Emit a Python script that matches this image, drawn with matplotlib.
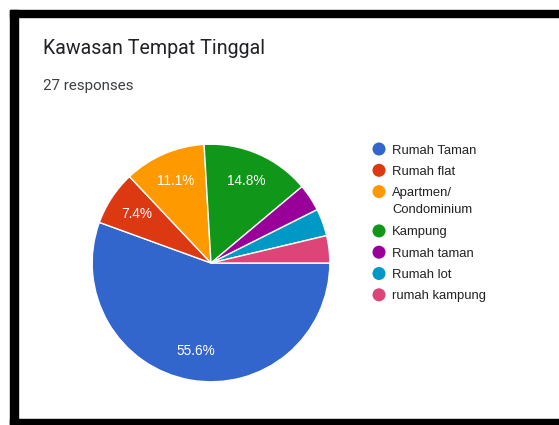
import matplotlib.pyplot as plt
from matplotlib.patches import Rectangle

# data (27 responses)
labels = ['Rumah Taman', 'Rumah flat', 'Apartmen/\nCondominium', 'Kampung',
          'Rumah taman', 'Rumah lot', 'rumah kampung']
counts = [15, 2, 3, 4, 1, 1, 1]
colors = ['#3366cc', '#dc3912', '#ff9900', '#109618',
          '#990099', '#0099c6', '#dd4477']
title = 'Kawasan Tempat Tinggal'
subtitle = '27 responses'

W, H = 559, 425
fig = plt.figure(figsize=(W / 100, H / 100), dpi=100)
fig.patch.set_facecolor('white')

# pie, center (211, 263) px, radius 120 px
cx, cy, r = 211, 263, 120
ax = fig.add_axes([(cx - r) / W, (H - cy - r) / H, 2 * r / W, 2 * r / H])
wedges, texts, autotexts = ax.pie(
    counts, colors=colors, startangle=0, counterclock=False,
    autopct=lambda p: f'{p:.1f}%' if p > 5 else '', pctdistance=0.75,
    wedgeprops=dict(edgecolor='white', linewidth=1),
    textprops=dict(color='white', fontsize=9.8, family='Liberation Sans'))
ax.set_xlim(-1.01, 1.01)
ax.set_ylim(-1.01, 1.01)

# overlay in pixel coords for text, legend and frame
ov = fig.add_axes([0, 0, 1, 1], zorder=-1)
ov.set_xlim(0, W)
ov.set_ylim(H, 0)
ov.axis('off')

ov.text(43, 48, title, fontsize=14.1, family='Roboto', color='#202124', va='center')
ov.text(43, 86, subtitle, fontsize=10.9, family='Roboto', color='#3c4043', va='center')

y = 149
for lab, col in zip(labels, colors):
    ov.scatter(379, y, s=88, color=col, edgecolors='none')
    ov.text(392, y - 4.5, lab, fontsize=9.4, family='Liberation Sans', color='#222222',
            va='top', linespacing=1.5)
    y += 21.3 + 18 * lab.count('\n')

# black frame
ov.add_patch(Rectangle((10, 9.5), W - 10, 7.5, color='black'))
ov.add_patch(Rectangle((10, 9.5), 7.5, H, color='black'))
ov.add_patch(Rectangle((10, 418.5), W - 10, 7, color='black'))

fig.savefig('out.png', dpi=100)
